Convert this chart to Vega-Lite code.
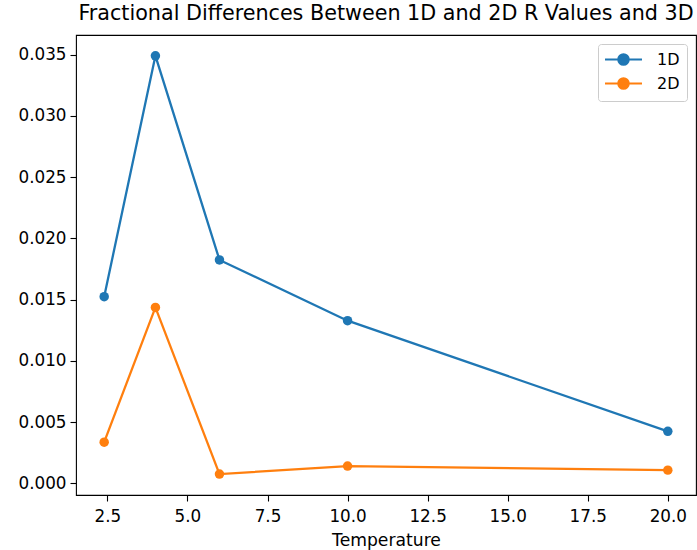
{
  "$schema": "https://vega.github.io/schema/vega-lite/v6.json",
  "autosize": "none",
  "padding": {"left": 76, "top": 35, "right": 1, "bottom": 55},
  "width": 620,
  "height": 460,
  "title": {
    "text": "Fractional Differences Between 1D and 2D R Values and 3D",
    "font": "DejaVu Sans",
    "fontSize": 20.7,
    "fontWeight": "normal",
    "color": "black",
    "anchor": "middle",
    "offset": 10
  },
  "data": {
    "values": [
      {"Temperature": 2.4, "value": 0.01524, "series": "1D"},
      {"Temperature": 4, "value": 0.03490, "series": "1D"},
      {"Temperature": 6, "value": 0.01824, "series": "1D"},
      {"Temperature": 10, "value": 0.01328, "series": "1D"},
      {"Temperature": 20, "value": 0.00425, "series": "1D"},
      {"Temperature": 2.4, "value": 0.00336, "series": "2D"},
      {"Temperature": 4, "value": 0.01436, "series": "2D"},
      {"Temperature": 6, "value": 0.00076, "series": "2D"},
      {"Temperature": 10, "value": 0.00141, "series": "2D"},
      {"Temperature": 20, "value": 0.00108, "series": "2D"}
    ]
  },
  "encoding": {
    "x": {
      "field": "Temperature",
      "type": "quantitative",
      "scale": {"domain": [1.52, 20.88], "nice": false, "zero": false},
      "axis": {"values": [2.5, 5, 7.5, 10, 12.5, 15, 17.5, 20], "format": ".1f", "title": "Temperature", "labelPadding": 7, "titlePadding": 7}
    },
    "y": {
      "field": "value",
      "type": "quantitative",
      "scale": {"domain": [-0.00095, 0.0366], "nice": false, "zero": false},
      "axis": {"values": [0, 0.005, 0.01, 0.015, 0.02, 0.025, 0.03, 0.035], "format": ".3f", "title": null, "labelPadding": 4}
    },
    "color": {
      "field": "series",
      "type": "nominal",
      "scale": {"domain": ["1D", "2D"], "range": ["#1f77b4", "#ff7f0e"]},
      "legend": {
        "title": null,
        "orient": "top-right",
        "offset": 9,
        "symbolType": "M-2.64,0H2.64M-0.74,0A0.74,0.74 0 1,0 0.74,0A0.74,0.74 0 1,0 -0.74,0Z",
        "symbolSize": 196,
        "symbolStrokeWidth": 2.2,
        "symbolOffset": 10,
        "labelFont": "DejaVu Sans",
        "labelFontSize": 16,
        "labelColor": "black",
        "labelOffset": 25,
        "rowPadding": 3,
        "padding": 7,
        "strokeColor": "#cccccc",
        "cornerRadius": 3,
        "fillColor": "white",
        "encode": {
          "symbols": {
            "update": {
              "fill": {"scale": "color", "field": "value"},
              "stroke": {"scale": "color", "field": "value"},
              "fillOpacity": {"value": 1},
              "opacity": {"value": 1}
            }
          }
        }
      }
    }
  },
  "layer": [
    {"mark": {"type": "line", "strokeWidth": 2.3}},
    {"mark": {"type": "point", "shape": "circle", "filled": true, "size": 90, "opacity": 1}}
  ],
  "config": {
    "view": {"stroke": "black", "strokeWidth": 1.1},
    "axis": {
      "grid": false,
      "domain": false,
      "tickColor": "black",
      "tickSize": 6,
      "tickWidth": 1.1,
      "labelFont": "DejaVu Sans",
      "labelFontSize": 16.8,
      "labelColor": "black",
      "titleFont": "DejaVu Sans",
      "titleFontSize": 17.2,
      "titleFontWeight": "normal",
      "titleColor": "black"
    }
  }
}
